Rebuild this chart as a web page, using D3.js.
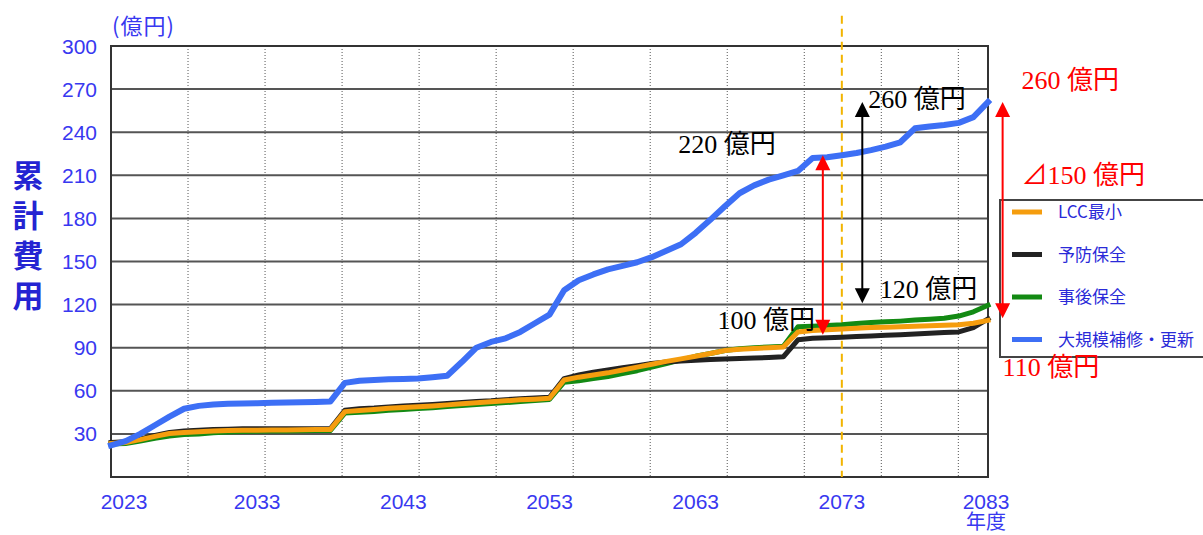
<!DOCTYPE html>
<html><head><meta charset="utf-8">
<script src="https://cdn.jsdelivr.net/npm/d3@7"></script>
<style>body{margin:0;background:#fff;} svg{display:block}</style>
</head><body>
<svg id="c" width="1203" height="535"></svg>
<script>
// ---- data ----
const years = d3.range(2023, 2084);
const lccMin = [23.3,24,26,28.3,30.3,31,31.5,32,32.3,32.5,32.6,32.7,32.8,32.9,33,33,
  45.5,46.3,47,47.8,48.3,48.9,49.5,50.2,51,51.6,52.3,53,53.7,54.2,54.8,
  67.5,69.5,71,72.5,74.5,76.5,78.5,80.5,82.2,84,86,88,89,89.5,90,90.5,101,
  102,102.5,103,103.5,104,104.3,104.6,105,105.3,105.6,106,107,109];
const preventive = [24,24.5,26.5,29,31,32,32.5,33,33.3,33.5,33.5,33.5,33.5,33.5,33.5,33.5,
  46.5,47.5,48,48.8,49.5,50,50.5,51.2,51.8,52.5,53,53.8,54.5,55,55.5,
  68.5,71,73,74.5,76,77.5,79,80,80.7,81.3,81.8,82.2,82.5,82.8,83.2,83.7,95.5,
  96.5,97,97.3,97.8,98.2,98.6,99,99.5,100,100.5,101,104,110];
const corrective = [23,23.3,25,27,28.5,29.5,30,30.8,31.3,31.7,31.8,32,32.1,32.2,32.3,32.3,
  44.5,45,45.6,46.4,47,47.6,48.2,49,49.7,50.4,51.2,51.8,52.5,53.2,54,
  66,67,68.5,70,72,74,76.5,79,81.5,84,86,88,89.3,90,90.5,91,104.5,
  105,105.5,106,106.8,107.5,108,108.5,109.2,109.8,110.5,112,115,119.5];
const largeRenewal = [22,25,30,36,42,47.5,49.5,50.5,51,51.2,51.4,51.6,51.8,52,52.2,52.5,
  65.5,67,67.5,68,68.2,68.5,69.5,70.5,80,90,94,96.5,101,107,113,
  130,137,141,144.5,147,149.5,153,157.5,162,170,179,188.5,197.5,203,207,210,213,
  222,222.5,224,225.5,227.5,230,233,242.7,244,245,246.5,250.5,261];
const seriesNames = ["LCC最小","予防保全","事後保全","大規模補修・更新"];
const seriesColors = ["#f59d0e","#222222","#138a13","#3d6ff5"];
const yTicks = [30,60,90,120,150,180,210,240,270,300];
const xTicks = [2023,2033,2043,2053,2063,2073,2083];
const markerYear = 2073;
// annotations: arrows [year, fromValue, toValue, colour]
const arrows = [[2071.7, 99, 224, "#ff0000"],[2074.4, 121, 261, "#000000"],[2084.0, 110.5, 261, "#ff0000"]];
// labels: [text, year, value, colour]
const labels = [["260 億円",2074.8,256.8,"#000"],["220 億円",2061.8,225.5,"#000"],
  ["100 億円",2064.5,102.7,"#000"],["120 億円",2075.6,124.6,"#000"],
  ["260 億円",2085.3,270,"#ff0000"],["⊿150 億円",2085.3,203.9,"#ff0000"],["110 億円",2084.0,70.3,"#ff0000"]];

// ---- chart ----
const svg = d3.select("#c");
const x = d3.scaleLinear().domain([2023, 2083]).range([111, 988]);
const y = d3.scaleLinear().domain([0, 300]).range([477, 46]);
const blue = "#3838f0";
const gridGray = "#555";
const numFont = "'Liberation Sans',Arial,sans-serif";
const jpFont = "'Noto Sans CJK JP',sans-serif";

// vertical dotted grid
const vGrid = d3.range(1, 12).map(k => 2023 + k * 5.27);
svg.append("g").selectAll("line").data(vGrid).join("line")
  .attr("x1", d => x(d)).attr("x2", d => x(d)).attr("y1", y(300)).attr("y2", y(0))
  .attr("stroke", gridGray).attr("stroke-width", 1).attr("stroke-dasharray", "1,2");
// horizontal grid
svg.append("g").selectAll("line").data(yTicks).join("line")
  .attr("x1", x(2023)).attr("x2", x(2083)).attr("y1", d => y(d)).attr("y2", d => y(d))
  .attr("stroke", gridGray).attr("stroke-width", 2);
// frame
svg.append("rect").attr("x", x(2023)).attr("y", y(300)).attr("width", x(2083)-x(2023)).attr("height", y(0)-y(300))
  .attr("fill", "none").attr("stroke", "#333").attr("stroke-width", 2);

// y tick labels
svg.append("g").selectAll("text").data(yTicks).join("text")
  .attr("x", 97).attr("y", d => y(d)).attr("dy", "0.36em").attr("text-anchor", "end")
  .attr("font-family", numFont).attr("font-size", 21)
  .attr("fill", blue).text(d => d);
svg.append("text").attr("x", 112).attr("y", 34).attr("font-family", jpFont)
  .attr("font-size", 22).attr("letter-spacing", 1).attr("fill", blue).text("(億円)");
// x tick labels (last one carries the 年度 unit on a second line)
const xl = svg.append("g").selectAll("text").data(xTicks).join("text")
  .attr("x", d => x(d) + (d === 2023 ? 13 : (d === 2083 ? -2 : 0))).attr("y", 509).attr("text-anchor", "middle")
  .attr("font-family", numFont).attr("font-size", 21)
  .attr("fill", blue);
xl.append("tspan").text(d => d);
xl.filter(d => d === 2083).append("tspan").attr("x", x(2083) - 2).attr("y", 529)
  .attr("font-family", jpFont).attr("font-size", 20).text("年度");
// y title (vertical)
svg.append("text").attr("x", 28).attr("y", 160)
  .attr("writing-mode", "vertical-rl").attr("text-orientation", "upright")
  .attr("letter-spacing", 9)
  .attr("font-family", jpFont).attr("font-size", 31).attr("font-weight", 700)
  .attr("fill", "#2424d2").text("累計費用");

// dashed marker line
svg.append("line").attr("x1", x(markerYear)).attr("x2", x(markerYear)).attr("y1", y(321)).attr("y2", y(0))
  .attr("stroke", "#f2b400").attr("stroke-width", 2).attr("stroke-dasharray", "8,5");

// series lines
const allSeries = [lccMin, preventive, corrective, largeRenewal];
const line = d3.line().x((d, i) => x(years[i])).y(d => y(d));
const drawOrder = [2, 1, 0, 3];
drawOrder.forEach(si => {
  svg.append("path").datum(allSeries[si]).attr("d", line)
    .attr("fill", "none").attr("stroke", seriesColors[si])
    .attr("stroke-width", si === 3 ? 6 : 5).attr("stroke-linejoin", "round").attr("stroke-linecap", "square");
});

// legend
const lg = svg.append("g");
lg.append("rect").attr("x", 1000).attr("y", 200).attr("width", 215).attr("height", 157)
  .attr("fill", "#fff").attr("stroke", "#444").attr("stroke-width", 2);
seriesNames.forEach((n, i) => {
  const ly = 212 + i * 42.5;
  lg.append("line").attr("x1", 1012).attr("x2", 1042).attr("y1", ly).attr("y2", ly)
    .attr("stroke", seriesColors[i]).attr("stroke-width", 5);
  lg.append("text").attr("x", 1058).attr("y", ly).attr("dy", "0.36em")
    .attr("font-family", jpFont).attr("font-size", 17)
    .attr("fill", "#2a2ad8").text(n);
});

// arrows
arrows.forEach(([yr, v0, v1, col]) => {
  const ax = x(yr), yTop = y(v1), yBot = y(v0), h = 15, w = 7.5;
  svg.append("line").attr("x1", ax).attr("x2", ax).attr("y1", yTop + h - 1).attr("y2", yBot - h + 1)
    .attr("stroke", col).attr("stroke-width", 2);
  svg.append("path").attr("d", `M${ax},${yTop} L${ax - w},${yTop + h} L${ax + w},${yTop + h} Z`).attr("fill", col);
  svg.append("path").attr("d", `M${ax},${yBot} L${ax - w},${yBot - h} L${ax + w},${yBot - h} Z`).attr("fill", col);
});

// labels
svg.append("g").selectAll("text").data(labels).join("text")
  .attr("x", d => x(d[1])).attr("y", d => y(d[2]))
  .attr("font-family", "'Liberation Serif','DejaVu Serif','Noto Sans CJK JP',serif").attr("font-size", 26)
  .attr("fill", d => d[3]).text(d => d[0]);
</script>
</body></html>
